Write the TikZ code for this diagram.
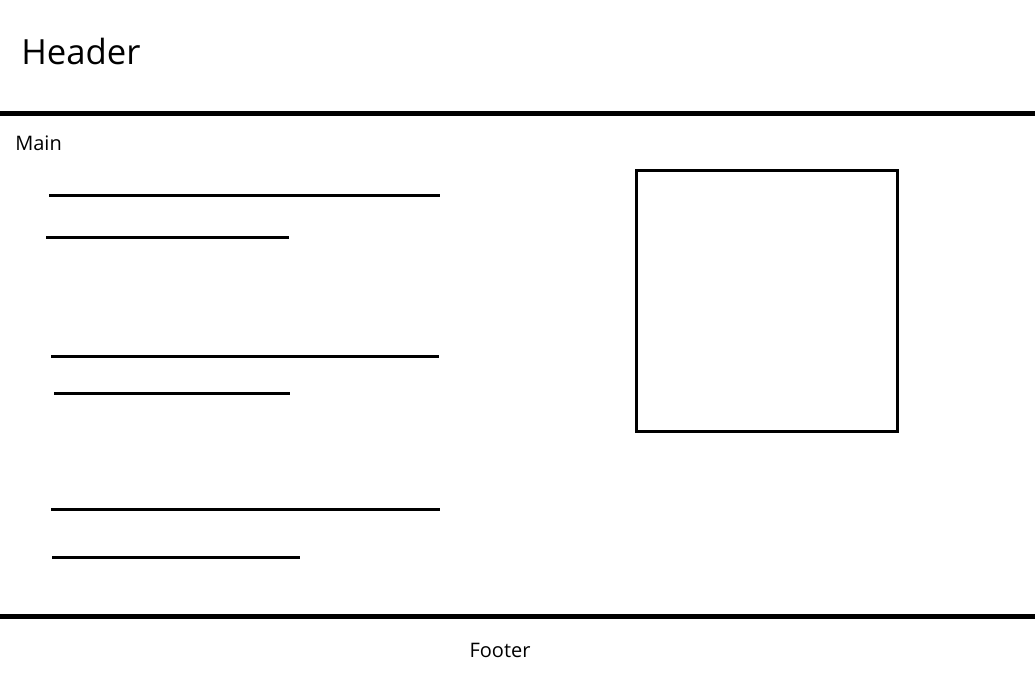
\documentclass[tikz,border=0pt]{standalone}
\usepackage{fontspec}
\setmainfont{Open Sans}
\usepackage{tikz}
\usetikzlibrary{positioning}
\tikzstyle{rule} = [line width=3.75pt, draw=black]
\tikzstyle{textline} = [line width=2.25pt, draw=black]
\tikzstyle{label} = [inner sep=0pt, font=\fontsize{15}{18}\selectfont]

\begin{document}
\begin{tikzpicture}[x=0.75pt, y=-0.75pt]
\useasboundingbox (0,0) rectangle (1035,680);

% header and footer bars
\node[inner sep=0pt, anchor=base west, font=\fontsize{26}{30}\selectfont] (header) at (21,65) {Header};
\draw[rule] (0,114) -- (1035,114);
\draw[rule] (0,616) -- (1035,616);
\node[label, anchor=base west] (main) at (15,151) {Main};
\node[label, anchor=base] (footer) at (500,657) {Footer};

% text placeholders
\draw[textline] (49,196) -- (440,196);
\draw[textline] (46,238) -- (289,238);
\draw[textline] (51,357) -- (439,357);
\draw[textline] (54,394) -- (290,394);
\draw[textline] (51,510) -- (440,510);
\draw[textline] (52,557) -- (300,557);

% image placeholder
\node[draw, line width=2.25pt, minimum width=261*0.75pt, minimum height=261*0.75pt, inner sep=0pt] (image) at (767,301.5) {};

\end{tikzpicture}
\end{document}
